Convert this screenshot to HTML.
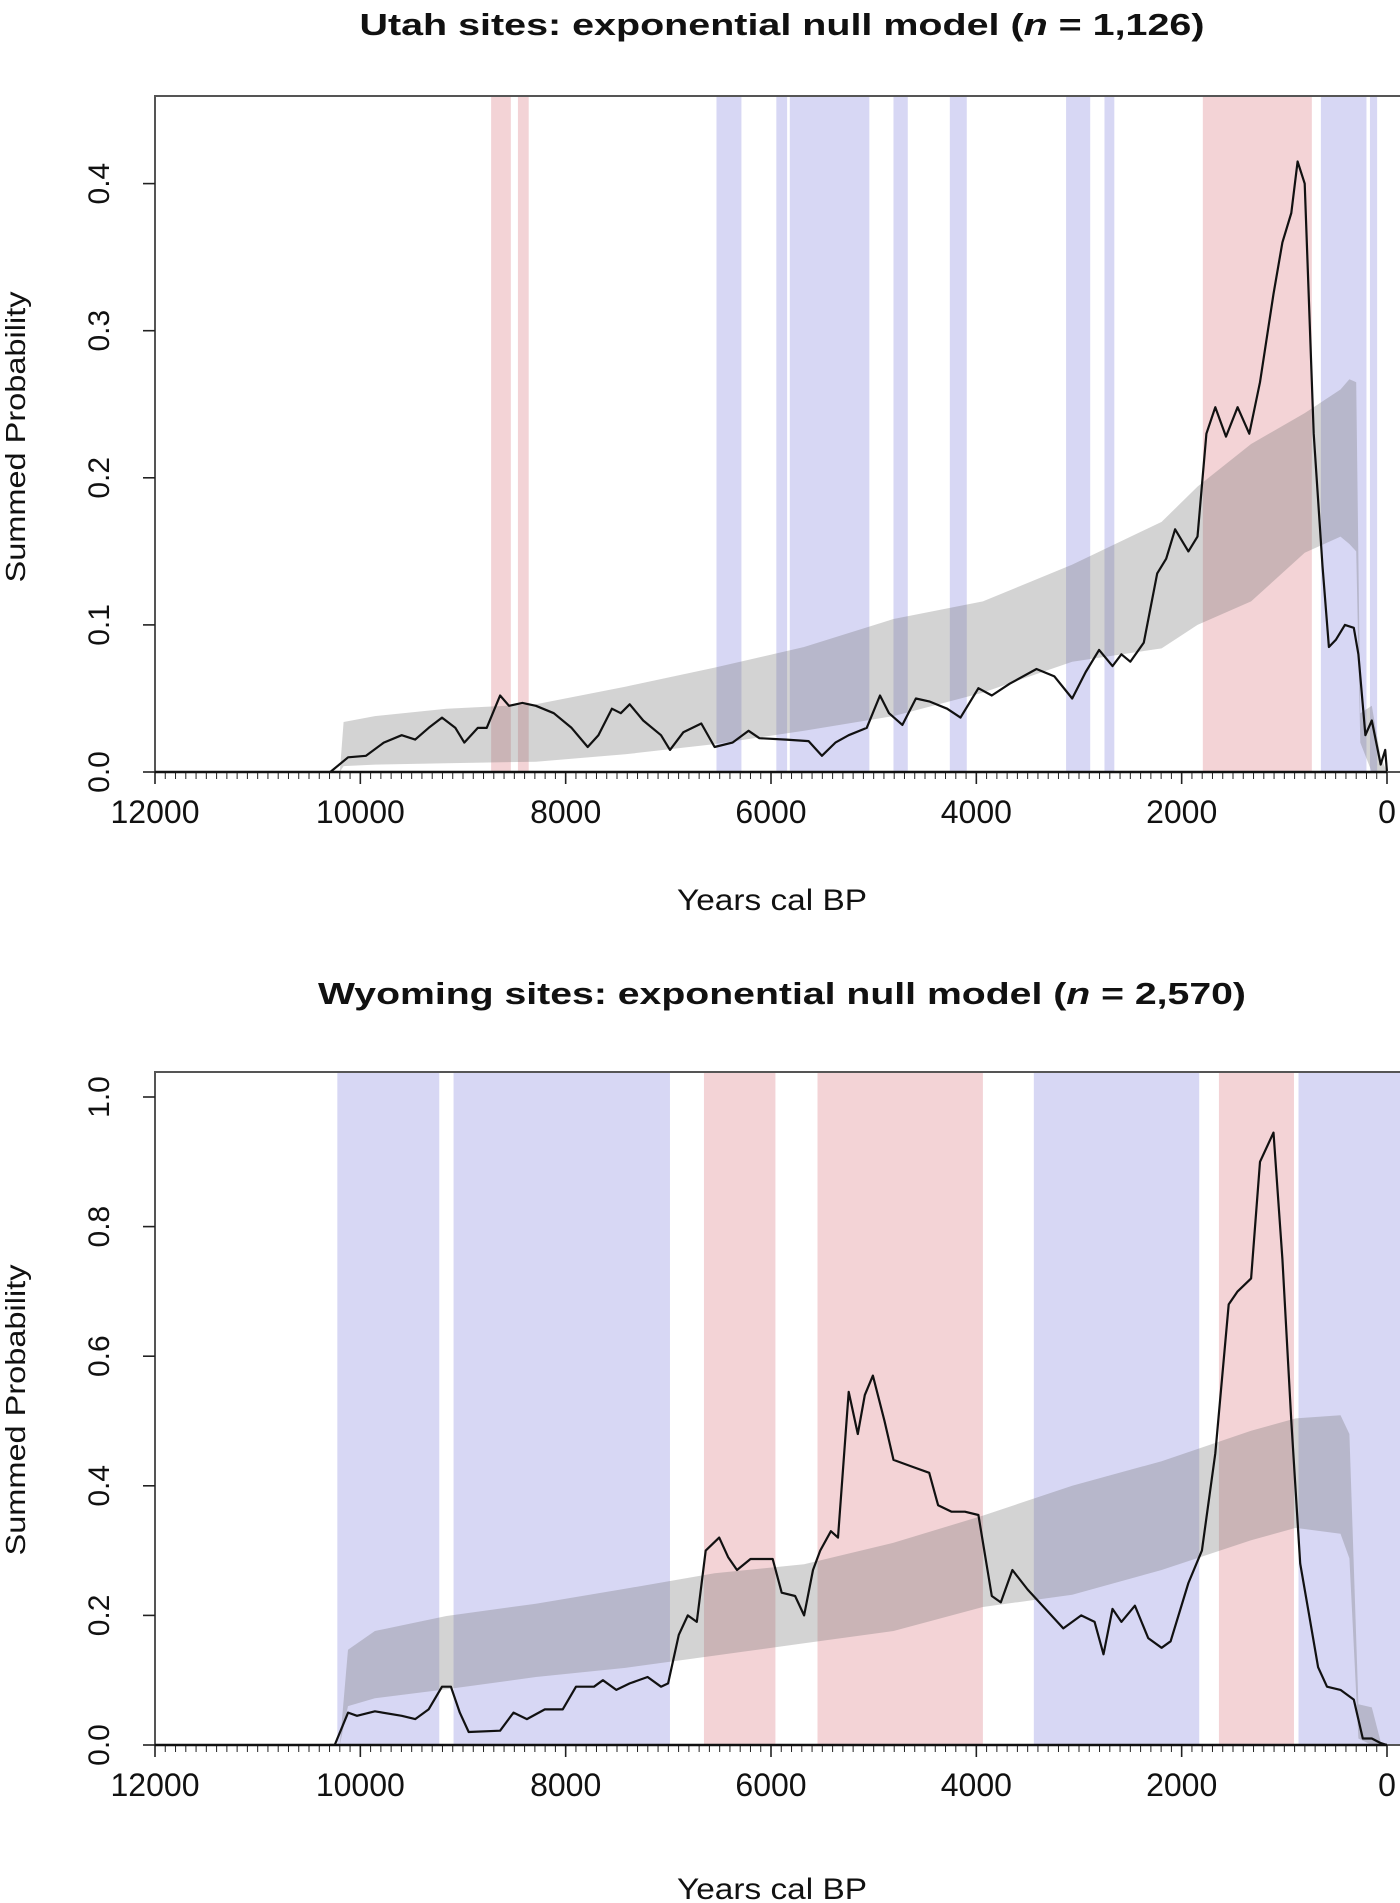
<!DOCTYPE html>
<html><head><meta charset="utf-8"><style>
html,body{margin:0;padding:0;background:#fff}
svg{display:block}
text{font-family:"Liberation Sans",Arial,sans-serif;fill:#111}
</style></head><body>
<svg id="chart" xmlns="http://www.w3.org/2000/svg" width="1400" height="1903" viewBox="0 0 1400 1903">
<g id="p1"></g>
<g id="p2"></g>
</svg>
<script>
// ---- Utah data ----
const utahYears=[10300,10293,10119,9945,9771,9597,9466,9335,9205,9074,8987,8856,8769,8639,8552,8421,8290,8116,7942,7785,7681,7550,7463,7376,7245,7071,6984,6854,6679,6549,6375,6218,6113,5852,5634,5504,5373,5243,5068,4938,4851,4720,4589,4459,4285,4154,3980,3849,3675,3414,3240,3066,2935,2804,2674,2587,2500,2369,2238,2151,2064,1934,1846,1759,1672,1568,1455,1341,1237,1106,1019,932,871,802,714,628,566,497,410,323,279,210,148,61,18,0];
const utahSpd=[0,0,0.010,0.011,0.020,0.025,0.022,0.030,0.037,0.030,0.020,0.030,0.030,0.052,0.045,0.047,0.045,0.040,0.030,0.017,0.025,0.043,0.040,0.046,0.035,0.025,0.015,0.027,0.033,0.017,0.020,0.028,0.023,0.022,0.021,0.011,0.020,0.025,0.030,0.052,0.040,0.032,0.050,0.048,0.043,0.037,0.057,0.052,0.060,0.070,0.065,0.050,0.068,0.083,0.072,0.080,0.075,0.088,0.135,0.145,0.165,0.150,0.160,0.230,0.248,0.228,0.248,0.230,0.265,0.325,0.360,0.380,0.415,0.400,0.230,0.140,0.085,0.090,0.100,0.098,0.080,0.025,0.035,0.005,0.015,0];
const utahEnvYears=[10200,10163,9858,9161,8290,7420,6549,5678,4807,3936,3066,2195,1846,1324,802,453,366,300,260,148,61,0];
const utahEnvLo=[0,0.004,0.005,0.006,0.007,0.012,0.019,0.028,0.038,0.054,0.075,0.084,0.100,0.116,0.149,0.160,0.155,0.150,0.020,0.000,0,0];
const utahEnvHi=[0,0.034,0.038,0.043,0.046,0.058,0.071,0.085,0.104,0.116,0.141,0.170,0.194,0.223,0.244,0.260,0.267,0.265,0.040,0.045,0.010,0];
const utahBlueStart=[6531,5948,5817,4807,4258,3126,2752,644,166];
const utahBlueEnd=[6288,5843,5042,4668,4093,2891,2656,200,96];
const utahRedStart=[8726,8465,1794];
const utahRedEnd=[8534,8360,732];
const utahTicks=[0,0.1,0.2,0.3,0.4];
// ---- Wyoming data ----
const wyoYears=[10300,10250,10119,10032,9858,9597,9466,9335,9205,9118,9031,8944,8639,8508,8378,8203,8029,7899,7724,7637,7507,7376,7202,7071,7002,6898,6810,6723,6636,6505,6418,6331,6200,5983,5896,5765,5678,5591,5521,5417,5347,5243,5155,5086,5007,4894,4807,4633,4459,4372,4241,4111,3980,3849,3762,3649,3501,3327,3153,2979,2848,2761,2674,2587,2456,2326,2195,2108,1934,1803,1672,1542,1455,1324,1237,1106,1019,932,845,758,671,584,453,323,236,148,61,0];
const wyoSpd=[0,0,0.050,0.045,0.052,0.045,0.040,0.055,0.090,0.090,0.050,0.020,0.022,0.050,0.040,0.055,0.055,0.090,0.090,0.100,0.085,0.095,0.105,0.090,0.095,0.170,0.200,0.190,0.300,0.320,0.290,0.270,0.287,0.287,0.235,0.230,0.200,0.270,0.300,0.330,0.320,0.545,0.480,0.540,0.570,0.500,0.440,0.430,0.420,0.370,0.360,0.360,0.355,0.230,0.220,0.270,0.240,0.210,0.180,0.200,0.190,0.140,0.210,0.190,0.215,0.165,0.150,0.160,0.250,0.300,0.450,0.680,0.700,0.720,0.900,0.945,0.750,0.500,0.280,0.200,0.120,0.090,0.085,0.070,0.010,0.010,0.003,0];
const wyoEnvYears=[10200,10120,9858,9161,8290,7420,6549,5678,4807,3936,3066,2195,1324,889,453,366,279,148,61,0];
const wyoEnvLo=[0,0.060,0.072,0.086,0.105,0.119,0.138,0.157,0.176,0.213,0.232,0.270,0.316,0.335,0.326,0.288,0.010,0,0,0];
const wyoEnvHi=[0,0.147,0.176,0.199,0.218,0.241,0.265,0.279,0.312,0.354,0.400,0.438,0.485,0.504,0.509,0.480,0.063,0.058,0.005,0];
const wyoBlueStart=[10224,9092,3440,862];
const wyoBlueEnd=[9231,6984,1829,-150];
const wyoRedStart=[6653,5547,1637];
const wyoRedEnd=[5957,3936,906];
const wyoTicks=[0,0.2,0.4,0.6,0.8,1.0];
const xTicks=[12000,10000,8000,6000,4000,2000,0];

const NS='http://www.w3.org/2000/svg';
function mk(parent,tag,attrs){const e=document.createElementNS(NS,tag);for(const k in attrs)e.setAttribute(k,attrs[k]);parent.appendChild(e);return e;}

function panel(g,cfg){
  const L=155,R=1400,X0=1387;
  const sx=y=>L+(12000-y)*(X0-L)/12000;
  const sy=v=>cfg.y0-v*cfg.ppu;
  const title=mk(g,'text',{x:782,y:cfg.titleY,'text-anchor':'middle','font-size':31,'font-weight':'bold',textLength:cfg.titleW,lengthAdjust:'spacingAndGlyphs'});
  
  
  title.appendChild(document.createTextNode(cfg.title+' ('));
  const it=mk(title,'tspan',{'font-style':'italic'});it.textContent='n';
  title.appendChild(document.createTextNode(' = '+cfg.n+')'));
  const clip=mk(g,'clipPath',{id:cfg.id+'clip'});
  mk(clip,'rect',{x:L,y:cfg.top,width:R-L,height:cfg.y0-cfg.top});
  const plot=mk(g,'g',{'clip-path':'url(#'+cfg.id+'clip)'});
  
  
  cfg.blueS.forEach((s,i)=>{
    const r=mk(plot,'rect',{x:sx(s),y:cfg.top,width:sx(cfg.blueE[i])-sx(s),height:cfg.y0-cfg.top,fill:'rgb(110,110,215)','fill-opacity':0.28});
    
    
  });
  cfg.redS.forEach((s,i)=>{
    const r=mk(plot,'rect',{x:sx(s),y:cfg.top,width:sx(cfg.redE[i])-sx(s),height:cfg.y0-cfg.top,fill:'rgb(215,110,120)','fill-opacity':0.3});
    
    
  });
  let d='';
  cfg.ey.forEach((y,i)=>{d+=(i?'L':'M')+sx(y).toFixed(1)+','+sy(cfg.eh[i]).toFixed(1);});
  for(let i=cfg.ey.length-1;i>=0;i--)d+='L'+sx(cfg.ey[i]).toFixed(1)+','+sy(cfg.el[i]).toFixed(1);
  const env=mk(plot,'path',{d:d+'Z',fill:'rgb(110,110,110)','fill-opacity':0.3});
  
  
  let ld='';
  cfg.ly.forEach((y,i)=>{ld+=(i?'L':'M')+sx(y).toFixed(1)+','+sy(cfg.lv[i]).toFixed(1);});
  const line=mk(plot,'path',{d:ld,fill:'none',stroke:'#111',"stroke-width":2.2,'stroke-linejoin':'round'});
  
  
  const box=mk(g,'rect',{x:L,y:cfg.top,width:R-L+2,height:cfg.y0-cfg.top,fill:'none',stroke:'#555','stroke-width':2});
  
  
  for(let y=12000;y>=0;y-=100){
    mk(g,'line',{x1:sx(y),x2:sx(y),y1:cfg.y0,y2:cfg.y0+(y%2000===0?12:7),stroke:'#222','stroke-width':y%2000===0?1.6:1});
  }
  mk(g,'line',{x1:L,x2:X0,y1:cfg.y0,y2:cfg.y0,stroke:'#111','stroke-width':2.5});
  xTicks.forEach(t=>{
    const tx=mk(g,'text',{x:sx(t),y:cfg.y0+51,'text-anchor':'middle','font-size':32});
    tx.textContent=t;
    
    
  });
  cfg.ticks.forEach(t=>{
    mk(g,'line',{x1:L-12,x2:L,y1:sy(t),y2:sy(t),stroke:'#222','stroke-width':1.6});
    const tx=mk(g,'text',{x:0,y:0,'text-anchor':'middle','font-size':30,transform:'translate(109,'+sy(t)+') rotate(-90)'});
    tx.textContent=t.toFixed(1);
    
    
  });
  const xl=mk(g,'text',{x:772,y:cfg.xlabY,'text-anchor':'middle','font-size':30,textLength:190,lengthAdjust:'spacingAndGlyphs'});
  xl.textContent='Years cal BP';
  
  
  const yl=mk(g,'text',{x:0,y:0,'text-anchor':'middle','font-size':28,textLength:291,lengthAdjust:'spacingAndGlyphs',transform:'translate(25,'+cfg.ylabY+') rotate(-90)'});
  yl.textContent='Summed Probability';
  
  
}
panel(document.getElementById('p1'),{id:'a',title:'Utah sites: exponential null model',n:'1,126',titleY:35,titleW:845,top:96,y0:772,ppu:1471,xlabY:910,ylabY:437,
  ticks:utahTicks,ly:utahYears,lv:utahSpd,ey:utahEnvYears,el:utahEnvLo,eh:utahEnvHi,blueS:utahBlueStart,blueE:utahBlueEnd,redS:utahRedStart,redE:utahRedEnd});
panel(document.getElementById('p2'),{id:'b',title:'Wyoming sites: exponential null model',n:'2,570',titleY:1004,titleW:928,top:1072,y0:1745,ppu:648,xlabY:1899,ylabY:1410,
  ticks:wyoTicks,ly:wyoYears,lv:wyoSpd,ey:wyoEnvYears,el:wyoEnvLo,eh:wyoEnvHi,blueS:wyoBlueStart,blueE:wyoBlueEnd,redS:wyoRedStart,redE:wyoRedEnd});
</script>
</body></html>
